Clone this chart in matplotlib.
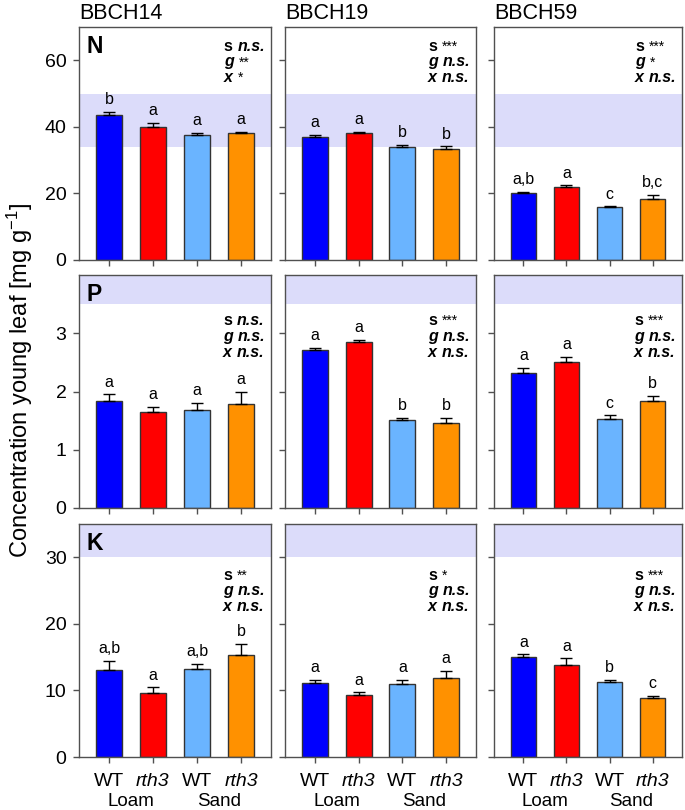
import matplotlib
matplotlib.use("Agg")
import matplotlib.pyplot as plt
from matplotlib.offsetbox import TextArea, HPacker, VPacker, AnchoredOffsetbox

plt.rcParams['font.family'] = ['Liberation Sans', 'DejaVu Sans']
plt.rcParams['mathtext.fontset'] = 'custom'
plt.rcParams['mathtext.rm'] = 'Liberation Sans'
plt.rcParams['mathtext.it'] = 'Liberation Sans:italic'

# data, one row per stage (BBCH14, BBCH19, BBCH59), bars: WT loam, rth3 loam, WT sand, rth3 sand
stages = ['BBCH14', 'BBCH19', 'BBCH59']
elements = ['N', 'P', 'K']
genotypes = ['WT', 'rth3', 'WT', 'rth3']
soils = ['Loam', 'Sand']

N_mean = [[43.5, 40.0, 37.7, 38.2], [37.0, 38.1, 33.9, 33.3], [20.1, 22.0, 15.9, 18.4]]
N_err = [[1.0, 1.2, 0.5, 0.3], [0.6, 0.3, 0.7, 0.8], [0.4, 0.4, 0.2, 1.2]]
P_mean = [[1.84, 1.65, 1.68, 1.79], [2.71, 2.85, 1.51, 1.46], [2.32, 2.51, 1.53, 1.83]]
P_err = [[0.11, 0.08, 0.13, 0.20], [0.04, 0.03, 0.04, 0.08], [0.08, 0.08, 0.06, 0.09]]
K_mean = [[13.0, 9.6, 13.25, 15.3], [11.15, 9.35, 11.0, 11.85], [15.05, 13.85, 11.2, 8.9]]
K_err = [[1.45, 0.85, 0.7, 1.7], [0.4, 0.35, 0.55, 1.05], [0.35, 0.95, 0.4, 0.3]]

N_letters = [['b', 'a', 'a', 'a'], ['a', 'a', 'b', 'b'], ['a,b', 'a', 'c', 'b,c']]
P_letters = [['a', 'a', 'a', 'a'], ['a', 'a', 'b', 'b'], ['a', 'a', 'c', 'b']]
K_letters = [['a,b', 'a', 'a,b', 'b'], ['a', 'a', 'a', 'a'], ['a', 'a', 'b', 'c']]

# ANOVA: soil (s), genotype (g), interaction (x)
N_stats = [['n.s.', '**', '*'], ['***', 'n.s.', 'n.s.'], ['***', '*', 'n.s.']]
P_stats = [['n.s.', 'n.s.', 'n.s.'], ['***', 'n.s.', 'n.s.'], ['***', 'n.s.', 'n.s.']]
K_stats = [['**', 'n.s.', 'n.s.'], ['*', 'n.s.', 'n.s.'], ['***', 'n.s.', 'n.s.']]

# sufficiency ranges (shaded) and axis limits
N_range = [34, 50]
P_range = [3.5, 4.0]
K_range = [30, 35]
ylims = [70, 4, 35]
yticks = [[0, 20, 40, 60], [0, 1, 2, 3], [0, 10, 20, 30]]

bar_colors = ['#0000FF', '#FF0000', '#6AB4FF', '#FF9100']
band_color = '#DCDCFA'
spine_color = '#505050'

means = [N_mean, P_mean, K_mean]
errs = [N_err, P_err, K_err]
letters = [N_letters, P_letters, K_letters]
stats = [N_stats, P_stats, K_stats]
ranges = [N_range, P_range, K_range]

fig = plt.figure(figsize=(6.85, 8.1), dpi=100)
W, H = 685, 810
col_left = [79, 285, 494]
col_w = [192, 191, 188]
row_top = [27, 275, 524]
row_h = 233
stat_y = [0.95, 0.836, 0.813]


def stats_box(ax, vals, y):
    rows = []
    for lab, val in zip(['s', 'g', 'x'], vals):
        lab_style = dict(fontsize=11.5, fontweight='bold',
                         fontstyle='normal' if lab == 's' else 'italic')
        kids = [TextArea(lab, textprops=lab_style)]
        if '*' in val:
            kids.append(TextArea(val, textprops=dict(fontsize=10)))
        else:
            kids.append(TextArea(val, textprops=dict(fontsize=11.5, fontweight='bold',
                                                      fontstyle='italic')))
        rows.append(HPacker(children=kids, align='baseline', pad=0, sep=3.5))
    box = VPacker(children=rows, align='left', pad=0, sep=0.5)
    ab = AnchoredOffsetbox(loc='upper right', child=box, pad=0, borderpad=0, frameon=False,
                           bbox_to_anchor=(0.97, y), bbox_transform=ax.transAxes)
    ax.add_artist(ab)


x = [0, 1, 2, 3]
for r in range(3):
    for c in range(3):
        ax = fig.add_axes([col_left[c] / W, 1 - (row_top[r] + row_h) / H, col_w[c] / W, row_h / H])
        ax.axhspan(ranges[r][0], ranges[r][1], color=band_color, lw=0, zorder=0)
        ax.bar(x, means[r][c], width=0.59, color=bar_colors, edgecolor='#333333', lw=1, zorder=2)
        ax.errorbar(x, means[r][c], yerr=[[0] * 4, errs[r][c]], fmt='none', ecolor='black',
                    elinewidth=1, capsize=4, capthick=1, zorder=3)
        for i in range(4):
            ax.annotate(letters[r][c][i], xy=(x[i], means[r][c][i] + errs[r][c][i]),
                        xytext=(0, 3.5), textcoords='offset points', ha='center', va='bottom',
                        fontsize=11.5)
        stats_box(ax, stats[r][c], stat_y[r])
        ax.set_xlim(-0.68, 3.68)
        ax.set_ylim(0, ylims[r])
        ax.set_yticks(yticks[r])
        ax.set_xticks(x)
        ax.tick_params(direction='out', length=4, width=1, color=spine_color, labelsize=14, pad=5)
        for s in ax.spines.values():
            s.set_color(spine_color)
            s.set_linewidth(1)
        if c > 0:
            ax.set_yticklabels([])
        if r == 2:
            ax.set_xticklabels(genotypes, fontsize=14)
            ax.tick_params(axis='x', pad=7.5)
            for i, t in enumerate(ax.get_xticklabels()):
                if genotypes[i] == 'rth3':
                    t.set_fontstyle('italic')
            for j, soil in enumerate(soils):
                ax.annotate(soil, xy=(0.5 + 2 * j, 0), xycoords=('data', 'axes fraction'),
                            xytext=(0, -26), textcoords='offset points', ha='center', va='top',
                            fontsize=13.5)
        else:
            ax.set_xticklabels([])
        if c == 0:
            ax.text(0.04, 0.965, elements[r], transform=ax.transAxes, ha='left', va='top',
                    fontsize=16.5, fontweight='bold')
        if r == 0:
            ax.set_title(stages[c], loc='left', fontsize=15.5, pad=6)

fig.text(20 / W, 1 - 381 / H, 'Concentration young leaf [mg g$^{-1}$]', rotation=90,
         ha='center', va='center', fontsize=17)

fig.savefig('out.png', dpi=100)
